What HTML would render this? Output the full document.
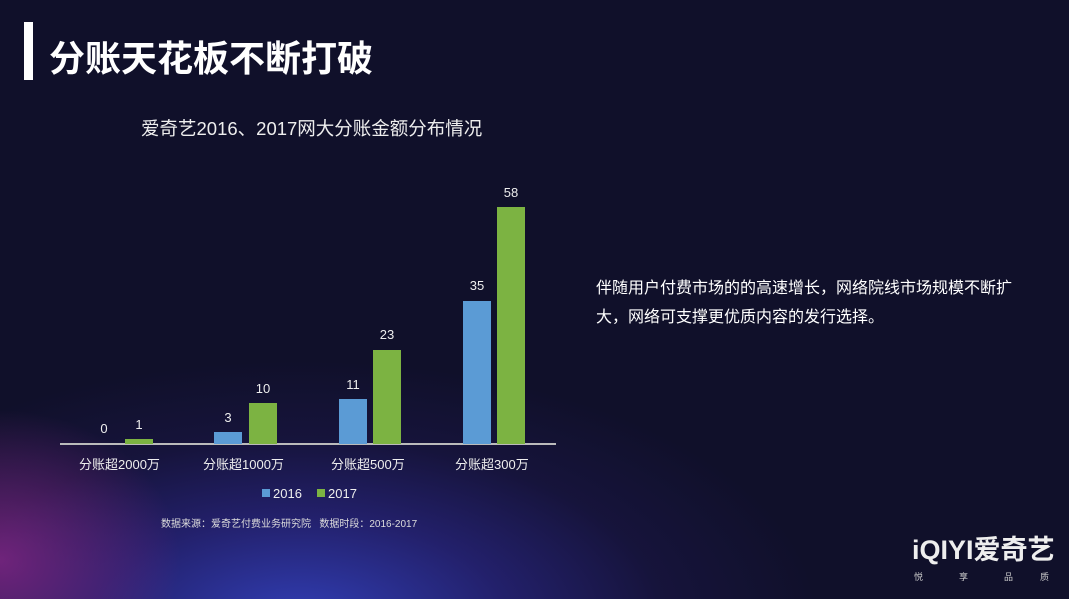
<!DOCTYPE html>
<html><head><meta charset="utf-8"><style>
html,body{margin:0;padding:0;width:1069px;height:599px;overflow:hidden}
body{position:relative;font-family:"Liberation Sans","Noto Sans CJK SC",sans-serif;color:#fff;
background:
radial-gradient(ellipse 180px 150px at 0px 560px,rgba(140,40,140,0.75),rgba(16,16,42,0) 100%),
radial-gradient(ellipse 520px 260px at 300px 620px,rgba(55,70,205,0.85) 0%,rgba(50,45,160,0.55) 40%,rgba(40,30,110,0.25) 70%,rgba(16,16,42,0) 100%),
#10102a}
.t{position:absolute;white-space:nowrap}
.bar{position:absolute;width:28px}
.b{background:#5b9bd5}.g{background:#7cb342}
.v{position:absolute;font-size:13px;width:40px;text-align:center;color:#eee}
.c{position:absolute;font-size:13px;color:#eee;top:454px}
</style></head><body>
<div style="position:absolute;left:24px;top:22px;width:9px;height:58px;background:#fff"></div>
<div class="t" style="left:49px;top:30px;font-size:36px;font-weight:bold">分账天花板不断打破</div>
<div class="t" style="left:141px;top:115px;font-size:18.5px;color:#eee">爱奇艺2016、2017网大分账金额分布情况</div>
<div style="position:absolute;left:60px;top:443px;width:496px;height:2px;background:#bbb"></div>
<div class="bar g" style="left:125px;top:439px;height:5px"></div>
<div class="bar b" style="left:214px;top:432px;height:12px"></div>
<div class="bar g" style="left:249px;top:403px;height:41px"></div>
<div class="bar b" style="left:339px;top:399px;height:45px"></div>
<div class="bar g" style="left:373px;top:350px;height:94px"></div>
<div class="bar b" style="left:463px;top:301px;height:143px"></div>
<div class="bar g" style="left:497px;top:207px;height:237px"></div>
<div class="v" style="left:84px;top:421px">0</div>
<div class="v" style="left:119px;top:417px">1</div>
<div class="v" style="left:208px;top:410px">3</div>
<div class="v" style="left:243px;top:381px">10</div>
<div class="v" style="left:333px;top:377px">11</div>
<div class="v" style="left:367px;top:327px">23</div>
<div class="v" style="left:457px;top:278px">35</div>
<div class="v" style="left:491px;top:185px">58</div>
<div class="c" style="left:79px">分账超2000万</div>
<div class="c" style="left:203px">分账超1000万</div>
<div class="c" style="left:331px">分账超500万</div>
<div class="c" style="left:455px">分账超300万</div>
<div style="position:absolute;left:262px;top:489px;width:8px;height:8px;background:#5b9bd5"></div>
<div class="t" style="left:273px;top:486px;font-size:13px;color:#eee">2016</div>
<div style="position:absolute;left:317px;top:489px;width:8px;height:8px;background:#7cb342"></div>
<div class="t" style="left:328px;top:486px;font-size:13px;color:#eee">2017</div>
<div class="t" style="left:161px;top:515px;font-size:10px;color:#ddd">数据来源：爱奇艺付费业务研究院 &nbsp; 数据时段：2016-2017</div>
<div class="t" style="left:596px;top:274px;font-size:16px;line-height:29px;color:#fff">伴随用户付费市场的的高速增长，网络院线市场规模不断扩<br>大，网络可支撑更优质内容的发行选择。</div>
<div class="t" style="left:912px;top:528px;font-size:27px;font-weight:bold;color:#eee">iQIYI爱奇艺</div>
<div class="t" style="left:914px;top:570px;font-size:9px;color:#ccc;letter-spacing:36px">悦享品</div>
<div class="t" style="left:1040px;top:570px;font-size:9px;color:#ccc">质</div>
</body></html>
